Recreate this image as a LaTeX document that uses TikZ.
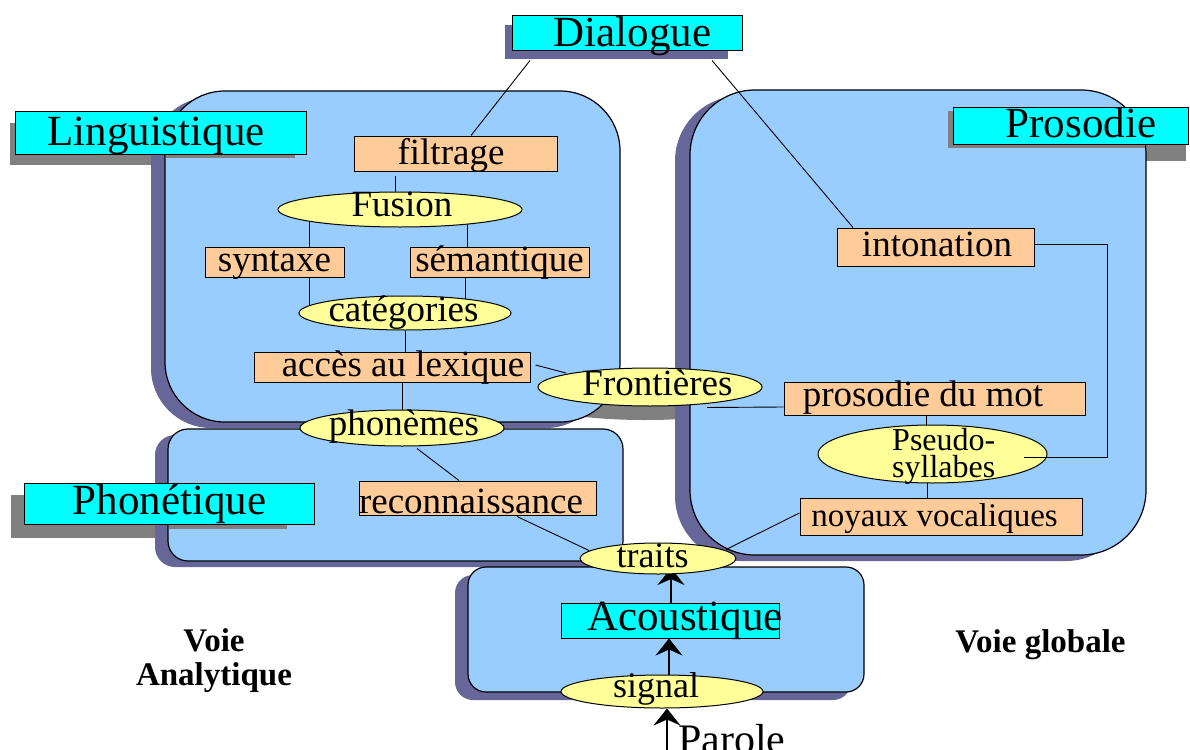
\documentclass[tikz,border=0pt]{standalone}
\usepackage{fontspec}
\setmainfont{Liberation Serif}
\usetikzlibrary{shapes.geometric,arrows.meta,calc}
\definecolor{regblue}{HTML}{99CCFF}
\definecolor{slate}{HTML}{666699}
\definecolor{labcyan}{HTML}{00FFFF}
\definecolor{boxorange}{HTML}{FFCC99}
\definecolor{ovalyellow}{HTML}{FFFF99}
\definecolor{shgray}{HTML}{808080}
\pgfdeclarelayer{bg}\pgfdeclarelayer{lines}\pgfdeclarelayer{front}
\pgfsetlayers{bg,lines,main,front}
\newcommand\tx[2][0pt]{\makebox[0pt]{\hspace*{#1}#2}}
\begin{document}
\begin{tikzpicture}[x=1pt,y=-1pt,
  lab/.style={draw=black, line width=1pt, fill=labcyan, inner sep=0pt, font=\fontsize{43}{48}\selectfont, text height=24pt, text depth=0pt},
  box/.style={draw=black, line width=1pt, fill=boxorange, inner sep=0pt, font=\fontsize{37}{40}\selectfont, text height=19.4pt, text depth=0pt},
  oval/.style={ellipse, draw=black, line width=1pt, fill=ovalyellow, inner sep=0pt, font=\fontsize{37}{40}\selectfont, text height=16pt, text depth=0pt},
  link/.style={draw=black, line width=0.9pt},
  arr/.style={draw=black, line width=1.1pt, -{Stealth[length=17pt,width=27pt,inset=6pt]}},
  region/.style={draw=black, line width=1.2pt, fill=regblue},
  plain/.style={inner sep=0pt},
  bold/.style={font=\bfseries\fontsize{33}{34}\selectfont}
]
\useasboundingbox (0,0) rectangle (1190,749);

% labels
\node[lab, minimum width=230pt, minimum height=35pt, text height=26.4pt] (dialogue) at (627,33.5) {\tx[11pt]{Dialogue}};
\node[lab, minimum width=291pt, minimum height=42pt, text height=25.4pt] (linguistique) at (160.5,133) {\tx[-9pt]{Linguistique}};
\node[lab, minimum width=235pt, minimum height=36pt, text height=23.4pt] (prosodieL) at (1070.5,126) {\tx[21pt]{Prosodie}};
\node[lab, minimum width=290pt, minimum height=41pt, text height=21.6pt] (phonetique) at (169,503.5) {\tx[1pt]{Phonétique}};
\node[lab, minimum width=218pt, minimum height=35pt, text height=19pt] (acoustique) at (670,620.5) {\tx[30pt]{Acoustique}};

% boxes
\node[box, minimum width=203pt, minimum height=35pt, text height=21pt] (filtrage) at (455.5,153.5) {\tx[-9pt]{filtrage}};
\node[box, minimum width=139pt, minimum height=30pt] (syntaxe) at (274.5,262) {\tx{syntaxe}};
\node[box, minimum width=179pt, minimum height=30pt] (semantique) at (499.5,262) {\tx{sémantique}};
\node[box, minimum width=276pt, minimum height=30pt] (acces) at (392,367) {\tx[22pt]{accès au lexique}};
\node[box, minimum width=197pt, minimum height=38pt] (intonation) at (935.5,247) {\tx[3pt]{intonation}};
\node[box, minimum width=301pt, minimum height=33pt, text height=15pt] (prosodie) at (934.5,398.5) {\tx[-23pt]{prosodie du mot}};
\node[box, minimum width=282pt, minimum height=37pt, text height=19pt, font=\fontsize{33}{36}\selectfont] (noyaux) at (941,516.5) {\tx[-13pt]{noyaux vocaliques}};
\node[box, minimum width=237pt, minimum height=34pt, text height=30pt] (reconnaissance) at (477.5,498) {\tx[-13pt]{reconnaissance}};

% ellipses
\node[oval, minimum width=244pt, minimum height=35pt, text height=14.4pt] (fusion) at (400,209.5) {\tx[4pt]{Fusion}};
\node[oval, minimum width=212pt, minimum height=34pt, text height=16pt] (categories) at (405,313) {\tx[-3pt]{catégories}};
\node[oval, minimum width=204pt, minimum height=36pt, text height=14pt] (phonemes) at (402,428) {\tx[4pt]{phonèmes}};
\node[oval, minimum width=224pt, minimum height=38pt, text height=17.4pt] (frontieres) at (650,387) {\tx[15pt]{Frontières}};
\node[oval, minimum width=229pt, minimum height=58pt] (pseudo) at (932.5,454) {};
\node[oval, minimum width=156pt, minimum height=31pt, text height=18pt, font=\fontsize{36}{40}\selectfont] (traits) at (658,558.5) {\tx[-11pt]{traits}};
\node[oval, minimum width=202pt, minimum height=33pt, text height=11pt, font=\fontsize{36}{40}\selectfont] (signal) at (662,691.5) {\tx[-12pt]{signal}};

% free texts
\node[plain, anchor=base west, font=\fontsize{32}{34}\selectfont] (pseudoA) at (892,450) {Pseudo-};
\node[plain, anchor=base west, font=\fontsize{32}{34}\selectfont] (pseudoB) at (892,477.7) {syllabes};
\node[plain, anchor=base west, font=\fontsize{42}{46}\selectfont] (parole) at (678,753) {Parole};
\node[plain, bold, align=center] (voieA) at (214,661) {Voie\\Analytique};
\node[plain, bold, anchor=base] (voieG) at (1040.5,652) {Voie globale};

% background panels and shadows
\begin{pgfonlayer}{bg}
  \fill[slate] (505,25) rectangle (728,59);
  \fill[shgray] (10,123) rectangle (295,165);
  \fill[shgray] (948,111) rectangle (1186,161);
  \fill[shgray] (11,495) rectangle (287,538);
  \fill[shgray] (645,401) ellipse [x radius=112pt, y radius=19pt];
  \fill[slate, rounded corners=60pt] (151,97) rectangle (606,428);
  \fill[slate, rounded corners=20pt] (155,435) rectangle (610,567);
  \fill[slate, rounded corners=65pt] (675,96) rectangle (1131,561);
  \fill[slate, rounded corners=18pt] (455,575) rectangle (851,700);
  \draw[region, rounded corners=60pt] (165,91) rectangle (620,422);
  \draw[region, rounded corners=20pt] (168,429) rectangle (623,561);
  \draw[region, rounded corners=65pt] (690,90) rectangle (1146,555);
  \draw[region, rounded corners=18pt] (468,567) rectangle (864,692);
  \fill[shgray] (166,123) rectangle (295,158);
  \fill[shgray] (948,111) rectangle (1145,148);
  \fill[shgray] (169,495) rectangle (287,529);
\end{pgfonlayer}

% connectors
\begin{pgfonlayer}{lines}
  \draw[link] ($(dialogue.south)+(-97,9)$) -- ($(filtrage.north)+(15.5,0)$);
  \draw[link] ($(dialogue.south)+(85,9)$) -- ($(intonation.north)+(-82.5,0)$);
  \draw[link] ($(filtrage.south)+(-60.5,4)$) |- (fusion.center);
  \draw[link] ($(syntaxe.north)+(34.5,0)$) |- (fusion.center);
  \draw[link] ($(semantique.north)+(-32.5,0)$) |- (fusion.center);
  \draw[link] ($(syntaxe.south)+(34.5,0)$) |- (categories.center);
  \draw[link] ($(semantique.south)+(-34.5,0)$) |- (categories.center);
  \draw[link] (categories.south) |- (acces.center);
  \draw[link] (phonemes.north) |- (acces.center);
  \draw[link] ($(acces.east)+(5,-2)$) -- ($(frontieres.center)+(-84,-14)$);
  \draw[link] ($(frontieres.south)+(57,1)$) -- ($(prosodie.west)+(0,8.5)$);
  \draw[link] ($(phonemes.south)+(15,2)$) -- ($(reconnaissance.north)+(-18.5,0)$);
  \draw[link] ($(reconnaissance.south)+(39.5,1)$) -- ($(traits.center)+(-69,-8)$);
  \draw[link] ($(noyaux.west)+(0,-3.5)$) -- ($(traits.center)+(68,-9)$);
  \draw[link] ($(prosodie.south)+(-8.5,0)$) |- (pseudo.center);
  \draw[link] ($(noyaux.north)+(-14,0)$) |- (pseudo.center);
  \draw[arr] ($(acoustique.north)+(1,0)$) -- ($(acoustique.north |- traits.center)+(1,9.5)$);
  \draw[arr] ($(signal.north)+(7,0)$) -- ($(acoustique.south)+(-1,0)$);
  \draw[arr] ($(parole.base west)+(-11,20)$) -- ($(signal.south)+(5,0)$);
\end{pgfonlayer}
\begin{pgfonlayer}{front}
  \draw[link] ($(intonation.east)+(0,-3)$) -- ++(73,0) |- ($(pseudo.center)+(91.5,3)$);
\end{pgfonlayer}
\end{tikzpicture}
\end{document}
